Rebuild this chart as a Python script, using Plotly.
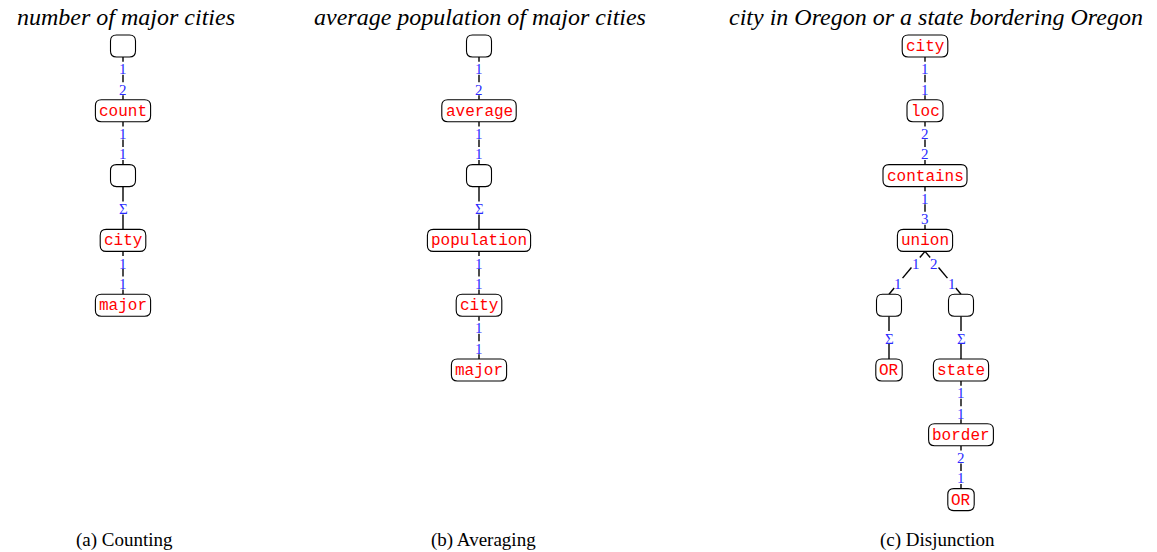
import math
import plotly.graph_objects as go

# panel texts
titles = ["number of major cities",
          "average population of major cities",
          "city in Oregon or a state bordering Oregon"]
captions = ["(a) Counting", "(b) Averaging", "(c) Disjunction"]

# tree (a): node labels, parent index, edge labels (parent side, child side)
a_labels = ["", "count", "", "city", "major"]
a_parent = [None, 0, 1, 2, 3]
a_edges = [None, ("1", "2"), ("1", "1"), ("Σ",), ("1", "1")]

# tree (b)
b_labels = ["", "average", "", "population", "city", "major"]
b_parent = [None, 0, 1, 2, 3, 4]
b_edges = [None, ("1", "2"), ("1", "1"), ("Σ",), ("1", "1"), ("1", "1")]

# tree (c)
c_labels = ["city", "loc", "contains", "union", "", "", "OR", "state", "border", "OR"]
c_parent = [None, 0, 1, 2, 3, 3, 4, 5, 7, 8]
c_edges = [None, ("1", "1"), ("2", "2"), ("1", "3"), ("1", "1"), ("2", "1"),
           ("Σ",), ("Σ",), ("1", "1"), ("2", "1")]

W, H = 1157, 552
ROW0, ROW = 46, 64.8
SIB = 72
CHAR, PAD, BOX_H = 9.6, 3.6, 22
GAP = 6.5
BLUE = "#2a2aff"

fig = go.Figure()
shapes = []
annotations = []


def box_w(label):
    return 25 if label == "" else len(label) * CHAR + 2 * PAD


def rounded(cx, cy, w, h, r=6):
    x0, x1, y0, y1 = cx - w / 2, cx + w / 2, cy - h / 2, cy + h / 2
    return (f"M {x0 + r},{y0} L {x1 - r},{y0} Q {x1},{y0} {x1},{y0 + r} "
            f"L {x1},{y1 - r} Q {x1},{y1} {x1 - r},{y1} L {x0 + r},{y1} "
            f"Q {x0},{y1} {x0},{y1 - r} L {x0},{y0 + r} Q {x0},{y0} {x0 + r},{y0} Z")


def draw_tree(labels, parent, edges, root_x):
    n = len(labels)
    pos = [None] * n
    pos[0] = (root_x, ROW0)
    for i in range(1, n):
        p = parent[i]
        sibs = [j for j in range(n) if parent[j] == p]
        k = sibs.index(i)
        px, py = pos[p]
        pos[i] = (px + (k - (len(sibs) - 1) / 2) * SIB, py + ROW)

    lx, ly = [], []
    for i in range(1, n):
        p = parent[i]
        px, py = pos[p]
        cx, cy = pos[i]
        x0, y0 = px, py + BOX_H / 2
        x1, y1 = cx, cy - BOX_H / 2
        length = math.hypot(x1 - x0, y1 - y0)
        labs = edges[i]
        fracs = [0.5] if len(labs) == 1 else [0.26, 0.74]
        # line broken where the labels sit
        g = GAP / length
        cuts = [0.0]
        for f in fracs:
            cuts += [f - g, f + g]
        cuts.append(1.0)
        for a, b in zip(cuts[::2], cuts[1::2]):
            lx += [x0 + (x1 - x0) * a, x0 + (x1 - x0) * b, None]
            ly += [y0 + (y1 - y0) * a, y0 + (y1 - y0) * b, None]
        for lab, f in zip(labs, fracs):
            annotations.append(dict(
                x=x0 + (x1 - x0) * f, y=y0 + (y1 - y0) * f, text=lab,
                showarrow=False, yshift=-1,
                font=dict(family="Liberation Serif", size=15, color=BLUE)))
    fig.add_trace(go.Scatter(x=lx, y=ly, mode="lines",
                             line=dict(color="black", width=1.4),
                             hoverinfo="skip", showlegend=False))

    for i in range(n):
        cx, cy = pos[i]
        shapes.append(dict(type="path", path=rounded(cx, cy, box_w(labels[i]), BOX_H),
                           line=dict(color="black", width=1.1),
                           fillcolor="white", layer="above"))
        if labels[i]:
            annotations.append(dict(
                x=cx, y=cy + 1, text=labels[i], showarrow=False,
                font=dict(family="Liberation Mono", size=16, color="red")))


draw_tree(a_labels, a_parent, a_edges, 123)
draw_tree(b_labels, b_parent, b_edges, 479)
draw_tree(c_labels, c_parent, c_edges, 925)

for t, cx in zip(titles, [126, 480, 936]):
    annotations.append(dict(x=cx, y=17, text=f"<i>{t}</i>", showarrow=False,
                            font=dict(family="Liberation Serif", size=24, color="black")))
for c, cx in zip(captions, [124, 483, 937]):
    annotations.append(dict(x=cx, y=540, text=c, showarrow=False,
                            font=dict(family="Liberation Serif", size=19, color="black")))

fig.update_layout(
    width=W, height=H, margin=dict(l=0, r=0, t=0, b=0),
    paper_bgcolor="white", plot_bgcolor="white",
    xaxis=dict(range=[0, W], visible=False, fixedrange=True),
    yaxis=dict(range=[H, 0], visible=False, fixedrange=True),
    shapes=shapes, annotations=annotations,
)
fig.write_html("out.html", config={"displayModeBar": False},
               post_script="document.body.style.margin='0';")
